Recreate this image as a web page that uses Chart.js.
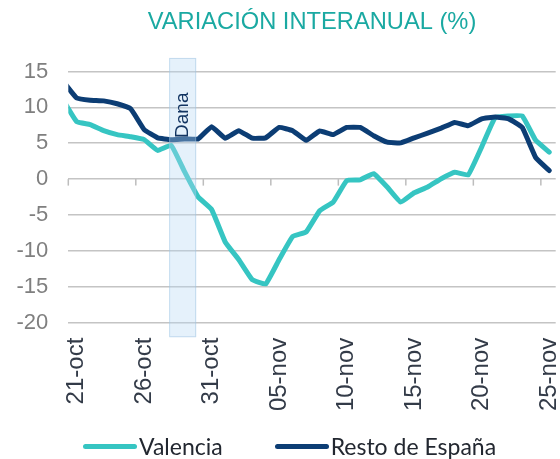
<!DOCTYPE html>
<html>
<head>
<meta charset="utf-8">
<script src="https://cdn.jsdelivr.net/npm/chart.js@4.4.1/dist/chart.umd.min.js"></script>
<style>
  html, body { margin: 0; padding: 0; background: #fff; }
  #wrap { position: relative; width: 560px; height: 459px; overflow: hidden; }
  #legend { position: absolute; left: 83px; top: 435px; display: flex; align-items: center;
            font: 23px Lato, sans-serif; line-height: 23px; color: #222730; white-space: nowrap; }
  .item { display: flex; align-items: center; margin-right: 52px; }
  .sw { width: 54px; height: 5px; margin-right: 2px; border-radius: 2.5px; }
</style>
</head>
<body>
<div id="wrap">
  <canvas id="c" width="560" height="459"></canvas>
  <div id="legend"></div>
</div>
<script>
// daily series, 20-oct .. 25-nov (20-oct only shows as the clipped start of the line)
const days = ['20-oct','21-oct','22-oct','23-oct','24-oct','25-oct','26-oct','27-oct','28-oct','29-oct','30-oct','31-oct',
  '01-nov','02-nov','03-nov','04-nov','05-nov','06-nov','07-nov','08-nov','09-nov','10-nov','11-nov','12-nov','13-nov',
  '14-nov','15-nov','16-nov','17-nov','18-nov','19-nov','20-nov','21-nov','22-nov','23-nov','24-nov','25-nov'];
const valencia = [11.0, 8.0, 7.6, 6.75, 6.2, 5.9, 5.5, 4.0, 4.7, 1.0, -2.5, -4.25, -8.75, -11.2, -14.0, -14.6, -11.2, -8.0,
  -7.35, -4.4, -3.2, -0.2, -0.1, 0.75, -1.1, -3.2, -1.9, -1.1, 0.05, 0.95, 0.6, 4.5, 8.6, 8.8, 8.8, 5.4, 3.75];
const resto = [13.6, 11.3, 11.0, 10.9, 10.5, 9.8, 6.9, 5.75, 5.5, 5.6, 5.6, 7.3, 5.7, 6.75, 5.7, 5.75, 7.2, 6.75,
  5.4, 6.7, 6.2, 7.2, 7.2, 6.05, 5.15, 5.05, 5.75, 6.4, 7.1, 7.9, 7.45, 8.4, 8.65, 8.4, 7.2, 3.0, 1.2];
const seriesNames = ['Valencia', 'Resto de España'];
const xTickLabels = ['21-oct','26-oct','31-oct','05-nov','10-nov','15-nov','20-nov','25-nov'];
const yTicks = [15, 10, 5, 0, -5, -10, -15, -20];

// x range in day index units, Dana band in the same units
const xMin = 0.38, xMax = 36.48;
const danaStart = 7.85, danaEnd = 9.85;

const TEAL = '#36c5c2';
const NAVY = '#0c3d74';

const extras = {
  id: 'extras',
  beforeDatasetsDraw(chart) {
    // little tick marks hanging under the zero line
    const { ctx, scales: { x, y } } = chart;
    const y0 = y.getPixelForValue(0);
    ctx.save();
    ctx.strokeStyle = '#bdbdbd';
    ctx.lineWidth = 1.5;
    for (let v = xMin; v < xMax; v += 5) {
      const px = x.getPixelForValue(v);
      ctx.beginPath(); ctx.moveTo(px, y0); ctx.lineTo(px, y0 + 6.5); ctx.stroke();
    }
    ctx.restore();
  },
  afterDatasetsDraw(chart) {
    const { ctx, chartArea, scales: { x } } = chart;
    const x1 = x.getPixelForValue(danaStart), x2 = x.getPixelForValue(danaEnd);
    const top = chartArea.top - 13.5, bot = chartArea.bottom + 14.5;
    ctx.save();
    ctx.fillStyle = 'rgba(184,215,244,0.36)';
    ctx.fillRect(x1, top, x2 - x1, bot - top);
    ctx.strokeStyle = 'rgba(150,190,222,0.45)';
    ctx.lineWidth = 1;
    ctx.strokeRect(x1 + 0.5, top + 0.5, x2 - x1 - 1, bot - top - 1);
    ctx.translate((x1 + x2) / 2, chartArea.top + 43.8);
    ctx.rotate(-Math.PI / 2);
    ctx.font = '19px "Liberation Sans"';
    ctx.fillStyle = '#123461';
    ctx.textAlign = 'center';
    ctx.textBaseline = 'middle';
    ctx.fillText('Dana', 0, 0);
    ctx.restore();
  }
};

const chart = new Chart(document.getElementById('c'), {
  type: 'line',
  data: {
    datasets: [
      { label: seriesNames[0], data: days.map((d, i) => ({ x: i, y: valencia[i] })), order: 1,
        borderColor: TEAL, backgroundColor: TEAL, borderWidth: 5, pointRadius: 0, tension: 0.1,
        borderJoinStyle: 'round', borderCapStyle: 'round', clip: 0 },
      { label: seriesNames[1], data: days.map((d, i) => ({ x: i, y: resto[i] })), order: 0,
        borderColor: NAVY, backgroundColor: NAVY, borderWidth: 5, pointRadius: 0, tension: 0.1,
        borderJoinStyle: 'round', borderCapStyle: 'round', clip: 0 }
    ]
  },
  options: {
    responsive: false,
    animation: false,
    layout: { padding: { left: 0, right: 4.3, top: 0, bottom: 46.3 } },
    plugins: {
      legend: { display: false },
      tooltip: { enabled: false },
      title: {
        display: true, text: 'VARIACIÓN INTERANUAL (%)', fullSize: false,
        color: '#1aa9a2', font: { family: 'Liberation Sans', size: 23.7, weight: 'normal' },
        padding: { top: 8, bottom: 35 }
      }
    },
    scales: {
      x: {
        type: 'linear', min: xMin, max: xMax,
        grid: { display: false, drawTicks: false }, border: { display: false },
        afterBuildTicks: s => { s.ticks = xTickLabels.map(l => ({ value: days.indexOf(l) })); },
        afterFit: s => { s.height = 90; s.paddingLeft = 0; s.paddingRight = 0; },
        ticks: { autoSkip: false, minRotation: 90, maxRotation: 90, padding: 15, color: '#333b48',
                 font: { family: 'Liberation Sans', size: 24 }, callback: v => days[v] }
      },
      y: {
        min: -20, max: 15,
        afterBuildTicks: s => { s.ticks = yTicks.map(v => ({ value: v })); },
        afterFit: s => { s.width = 68.3; s.paddingTop = 0; s.paddingBottom = 0; },
        grid: { color: '#c4c4c4', lineWidth: 1.5, drawTicks: false }, border: { display: false },
        ticks: { padding: 20, color: '#7f7f7f', font: { family: 'Liberation Sans', size: 22 } }
      }
    }
  },
  plugins: [extras]
});

document.getElementById('legend').innerHTML = chart.data.datasets.map(ds =>
  `<span class="item"><span class="sw" style="background:${ds.borderColor}"></span>${ds.label}</span>`).join('');
</script>
</body>
</html>
